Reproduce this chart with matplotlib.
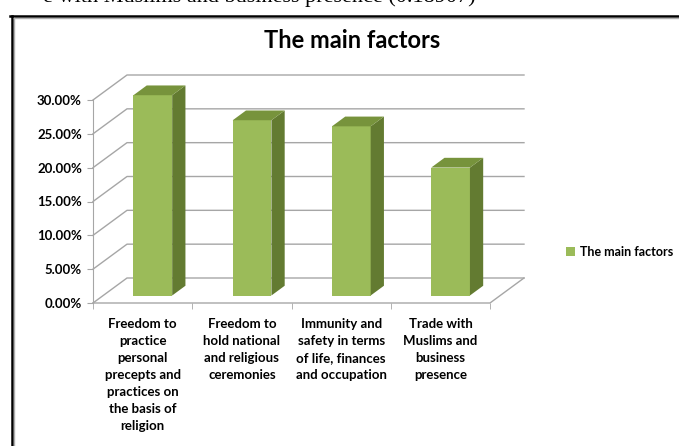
import matplotlib
matplotlib.use("Agg")
import matplotlib.pyplot as plt
from matplotlib.patches import Polygon, Patch
from matplotlib.lines import Line2D
from matplotlib.ticker import FuncFormatter, MultipleLocator

plt.rcParams['font.family'] = ['Lato', 'DejaVu Sans']

categories = ["Freedom to\npractice\npersonal\nprecepts and\npractices on\nthe basis of\nreligion",
              "Freedom to\nhold national\nand religious\nceremonies",
              "Immunity and\nsafety in terms\nof life, finances\nand occupation",
              "Trade with\nMuslims and\nbusiness\npresence"]
values = [29.6, 25.9, 25.0, 18.907]
series_name = "The main factors"
doc_line = "e with Muslims and business presence (0.18907)"

front_col = '#9bbb59'
top_col = '#77933c'
side_col = '#637b31'
grid_col = '#a6a6a6'

W, H = 679, 446
fig = plt.figure(figsize=(W / 100, H / 100), dpi=100)

# front plane of the 3D box, in pixels
x0, x1, y0, y1 = 93, 490, 303, 100
ax = fig.add_axes([x0 / W, (H - y0) / H, (x1 - x0) / W, (y0 - y1) / H])
ax.set_xlim(-0.5, len(categories) - 0.5)
ax.set_ylim(0, 30)

px_x = (x1 - x0) / len(categories)
px_y = (y0 - y1) / 30
dx, dy = 34 / px_x, 25 / px_y          # depth of the box in data units
n = len(categories)

# left wall + back wall grid lines
for v in range(0, 31, 5):
    ax.plot([-0.5, -0.5 + dx, n - 0.5 + dx], [v, v + dy, v + dy],
            color=grid_col, lw=1, clip_on=False, zorder=1)
# floor
ax.plot([-0.5, n - 0.5, n - 0.5 + dx], [0, 0, dy], color=grid_col, lw=1, clip_on=False, zorder=1)

# bars (fake 3D)
f0, f1 = 0.30, 0.69
bw = 0.39
for i, v in enumerate(values):
    xl = i - bw / 2 + f0 * dx
    xr = xl + bw
    yb = f0 * dy
    ddx, ddy = (f1 - f0) * dx, (f1 - f0) * dy
    ax.add_patch(Polygon([(xl, yb), (xr, yb), (xr, yb + v), (xl, yb + v)],
                         closed=True, fc=front_col, ec='none', clip_on=False, zorder=3))
    ax.add_patch(Polygon([(xr, yb), (xr + ddx, yb + ddy), (xr + ddx, yb + v + ddy), (xr, yb + v)],
                         closed=True, fc=side_col, ec='none', clip_on=False, zorder=3))
    ax.add_patch(Polygon([(xl, yb + v), (xr, yb + v), (xr + ddx, yb + v + ddy), (xl + ddx, yb + v + ddy)],
                         closed=True, fc=top_col, ec='none', clip_on=False, zorder=3))

for s in ['top', 'right', 'bottom']:
    ax.spines[s].set_visible(False)
ax.spines['left'].set_color(grid_col)
ax.set_facecolor('none')

ax.yaxis.set_major_locator(MultipleLocator(5))
ax.yaxis.set_major_formatter(FuncFormatter(lambda v, p: f"{v:.2f}%"))
ax.tick_params(axis='y', length=4, color=grid_col, pad=4, labelsize=9.5)
for t in ax.get_yticklabels():
    t.set_fontweight('bold')

ax.set_xticks(range(n))
ax.set_xticklabels(categories, fontsize=9.5, fontweight='bold', linespacing=1.5,
                   va='top', ha='center')
ax.set_xticks([i - 0.5 for i in range(n + 1)], minor=True)
ax.tick_params(axis='x', which='major', length=0, pad=11)
ax.tick_params(axis='x', which='minor', length=4, color=grid_col)

ax.legend(handles=[Patch(fc=front_col, ec='none', label=series_name)],
          loc='center left', bbox_to_anchor=(555 / W, 1 - 252 / H),
          bbox_transform=fig.transFigure, frameon=False,
          handlelength=0.7, handleheight=0.7, handletextpad=0.4,
          prop={'size': 9, 'weight': 'bold'})

fig.text(352 / W, 1 - 40 / H, "The main factors", ha='center', va='center',
         fontsize=17, fontweight='bold')

# surrounding document: text cut off at the top and the frame border
fig.text(476 / W, 1 - 2 / H, doc_line, ha='right', va='baseline',
         fontsize=16, family='Liberation Serif')
fig.add_artist(Line2D([10 / W, 1], [1 - 16 / H, 1 - 16 / H], color='black', lw=1.8))
fig.add_artist(Line2D([11.5 / W, 11.5 / W], [0, 1 - 16 / H], color='black', lw=1.8))
fig.add_artist(Line2D([14 / W, 14 / W], [0, 1 - 18 / H], color='#b0b0b0', lw=1))
fig.add_artist(Line2D([14 / W, 1], [1 - 18 / H, 1 - 18 / H], color='#b0b0b0', lw=1))

fig.savefig("out.png", dpi=100)
